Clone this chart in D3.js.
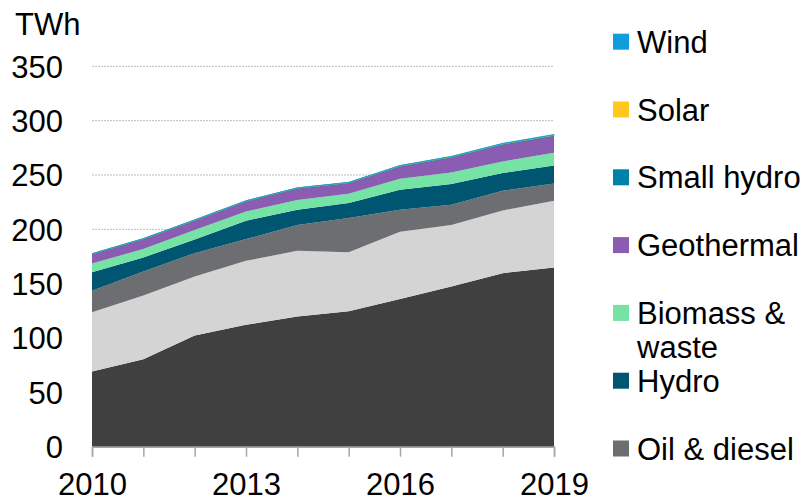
<!DOCTYPE html>
<html>
<head>
<meta charset="utf-8">
<script src="https://cdn.jsdelivr.net/npm/d3@7"></script>
<style>
  body { margin: 0; background: #fff; }
  svg { display: block; }
</style>
</head>
<body>
<div id="chart"></div>
<script>
const YEARS = [2010, 2011, 2012, 2013, 2014, 2015, 2016, 2017, 2018, 2019];

const COAL       = [69.1, 80.5, 102.2, 112.1, 119.7, 124.7, 136.0, 147.4, 159.7, 164.9];
const GAS        = [54.7, 58.6, 54.4, 58.9, 60.5, 54.3, 61.8, 56.5, 57.7, 61.4];
const OIL        = [19.6, 22.1, 21.5, 20.0, 23.7, 31.4, 20.2, 18.7, 18.1, 15.9];
const HYDRO      = [17.2, 12.9, 12.6, 16.9, 14.1, 13.8, 18.4, 19.1, 16.3, 16.6];
const BIOMASS    = [8.0, 7.7, 8.6, 8.6, 8.9, 8.6, 10.2, 10.7, 10.7, 11.7];
const GEOTHERMAL = [8.6, 9.2, 8.9, 9.2, 10.7, 9.8, 11.3, 13.8, 15.4, 15.4];
const SMALLHYDRO = [0.3, 0.3, 0.3, 0.4, 0.4, 0.4, 0.5, 0.5, 0.6, 0.6];
const SOLAR      = [0.0, 0.0, 0.0, 0.0, 0.01, 0.02, 0.05, 0.1, 0.2, 0.3];
const WIND       = [0.1, 0.2, 0.2, 0.2, 0.2, 0.2, 0.3, 0.3, 0.4, 0.5];

// bottom to top
const SERIES = [
  { key: 'coal',       name: 'Coal',            values: COAL,       color: '#404040' },
  { key: 'gas',        name: 'Gas',             values: GAS,        color: '#d4d4d4' },
  { key: 'oil',        name: 'Oil & diesel',    values: OIL,        color: '#6d6e71' },
  { key: 'hydro',      name: 'Hydro',           values: HYDRO,      color: '#005670' },
  { key: 'biomass',    name: 'Biomass & waste', values: BIOMASS,    color: '#74e3a4' },
  { key: 'geothermal', name: 'Geothermal',      values: GEOTHERMAL, color: '#8a5cb2' },
  { key: 'smallhydro', name: 'Small hydro',     values: SMALLHYDRO, color: '#0081a8' },
  { key: 'solar',      name: 'Solar',           values: SOLAR,      color: '#ffc81e' },
  { key: 'wind',       name: 'Wind',            values: WIND,       color: '#0e9edb' }
];

const Y_TICKS = [0, 50, 100, 150, 200, 250, 300, 350];
const X_LABELS = [2010, 2013, 2016, 2019];
const UNIT = 'TWh';

const WIDTH  = 807;
const HEIGHT = 499;
const FONT   = 'Arial, "Liberation Sans", sans-serif';
const MARGIN = { left: 92, right: 253, top: 66.3, bottom: 52.3 };

let svg = d3.select('#chart').append('svg')
  .attr('width', WIDTH)
  .attr('height', HEIGHT);

let xScale = d3.scaleLinear()
  .domain([YEARS[0], YEARS[YEARS.length - 1]])
  .range([MARGIN.left, WIDTH - MARGIN.right]);
let yScale = d3.scaleLinear()
  .domain([0, 350])
  .range([HEIGHT - MARGIN.bottom, MARGIN.top]);

// Gridlines
svg.append('g')
  .selectAll('line')
  .data(Y_TICKS.filter(d => d > 0))
  .enter().append('line')
    .attr('x1', xScale.range()[0])
    .attr('x2', xScale.range()[1])
    .attr('y1', d => yScale(d))
    .attr('y2', d => yScale(d))
    .style('stroke', '#bdbdbd')
    .style('stroke-width', 1)
    .style('stroke-dasharray', '2,1');

// Stacked areas
let rows = YEARS.map((year, i) => {
  let row = { year: year };
  for (let s of SERIES) row[s.key] = s.values[i];
  return row;
});
let stack = d3.stack().keys(SERIES.map(s => s.key))(rows);
let area = d3.area()
  .x(d => xScale(d.data.year))
  .y0(d => yScale(d[0]))
  .y1(d => yScale(d[1]));

svg.append('g')
  .selectAll('path')
  .data(stack)
  .enter().append('path')
    .attr('d', area)
    .style('fill', (d, i) => SERIES[i].color)
    .style('stroke', (d, i) => i >= 6 ? SERIES[i].color : 'none')
    .style('stroke-width', (d, i) => i >= 6 ? 0.7 : 0);

// X axis
let xAxis = svg.append('g')
  .attr('transform', `translate(0,${yScale(0)})`)
  .call(d3.axisBottom(xScale)
    .tickValues(YEARS)
    .tickSize(10)
    .tickFormat(d => X_LABELS.includes(d) ? d : ''));
xAxis.select('.domain')
  .style('stroke', '#a6a6a6')
  .style('stroke-width', 1.5);
xAxis.selectAll('.tick line')
  .style('stroke', '#a6a6a6')
  .style('stroke-width', 1.5);
xAxis.selectAll('.tick text')
  .attr('y', 0)
  .attr('dy', 48.6)
  .style('font-family', FONT)
  .style('font-size', '31px')
  .style('fill', '#000');

// Y axis labels
let yAxis = svg.append('g')
  .attr('transform', `translate(${MARGIN.left},0)`)
  .call(d3.axisLeft(yScale).tickValues(Y_TICKS).tickSize(0).tickPadding(29));
yAxis.select('.domain').remove();
yAxis.selectAll('.tick text')
  .attr('dy', '0.35em')
  .style('font-family', FONT)
  .style('font-size', '31px')
  .style('fill', '#000');

svg.append('text')
  .text(UNIT)
  .attr('x', 15)
  .attr('y', 35)
  .style('font-family', FONT)
  .style('font-size', '31px')
  .style('fill', '#000');

// Legend, top entry first; the last rows fall below the picture
const LEGEND = { x: 613, top: 41.7, step: 67.8, box: 16, lineHeight: 34.5 };
let legendRows = SERIES.slice().reverse()
  .map((s, i) => Object.assign({}, s, { cy: LEGEND.top + i * LEGEND.step }))
  .filter(s => s.cy < HEIGHT);

let legend = svg.append('g')
  .selectAll('g')
  .data(legendRows)
  .enter().append('g')
    .attr('transform', d => `translate(${LEGEND.x},${d.cy})`);

legend.append('rect')
  .attr('x', 0)
  .attr('y', -LEGEND.box / 2)
  .attr('width', LEGEND.box)
  .attr('height', LEGEND.box)
  .style('fill', d => d.color);

legend.append('text')
  .attr('x', 24)
  .attr('y', 11)
  .style('font-family', FONT)
  .style('font-size', '31px')
  .style('fill', '#000')
  .each(function(d) {
    let lines = d.name === 'Biomass & waste' ? ['Biomass &', 'waste'] : [d.name];
    d3.select(this).selectAll('tspan')
      .data(lines)
      .enter().append('tspan')
        .attr('x', 24)
        .attr('dy', (l, i) => i ? LEGEND.lineHeight : 0)
        .text(l => l);
  });
</script>
</body>
</html>
